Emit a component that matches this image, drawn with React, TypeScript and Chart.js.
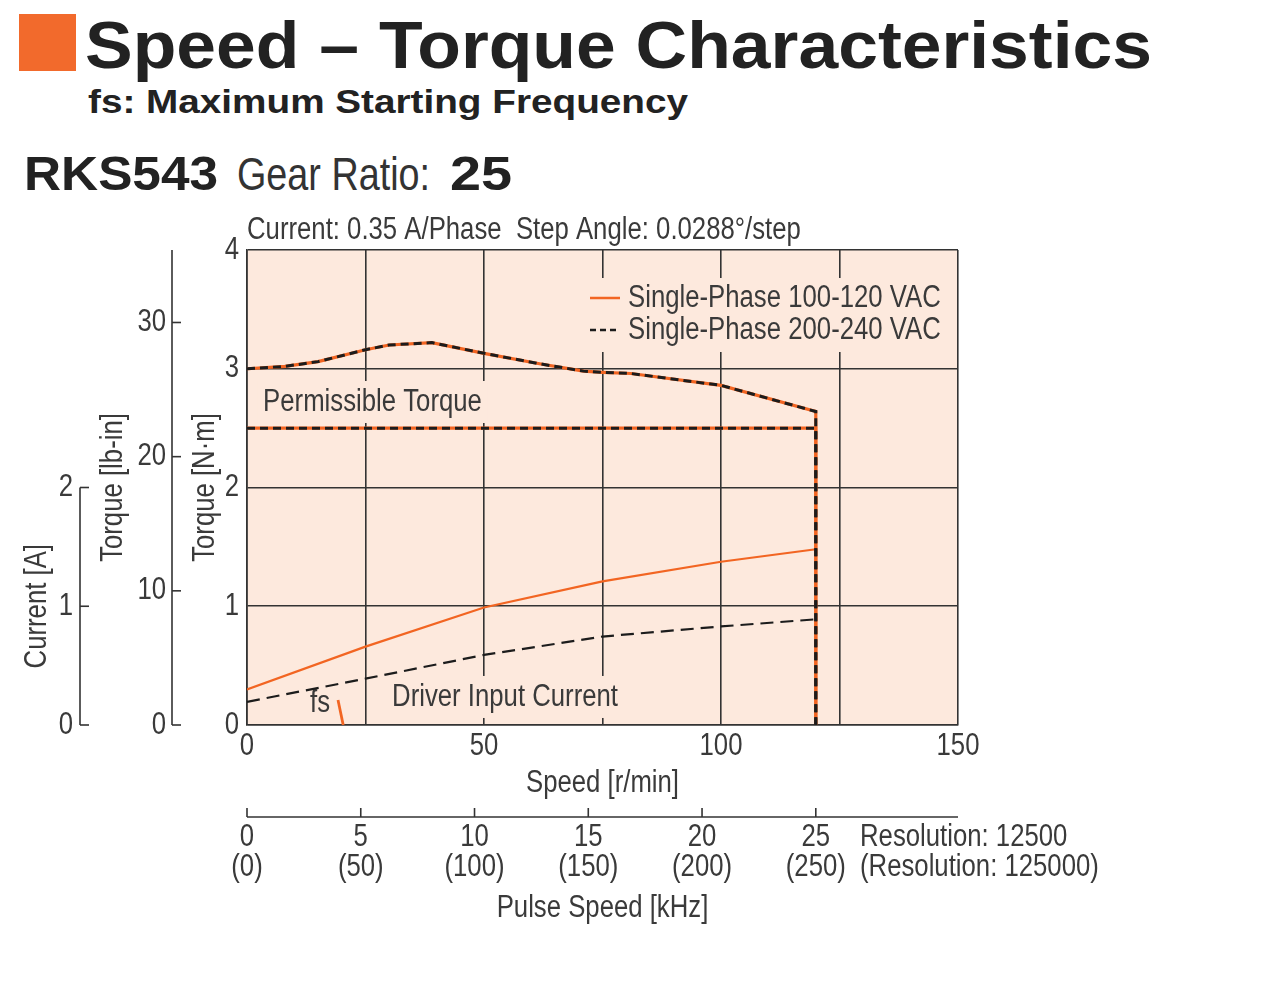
import React, { useEffect, useLayoutEffect, useRef } from 'react';
import { Chart, registerables } from 'chart.js';

Chart.register(...registerables);

// ---------------- data ----------------
const SPEED_PULLOUT = [0, 8, 15, 25, 30, 39, 50, 62, 71, 75, 81, 100, 120, 120];
const TORQUE_PULLOUT = [3.0, 3.02, 3.06, 3.16, 3.2, 3.22, 3.13, 3.04, 2.98, 2.97, 2.96, 2.86, 2.64, 0];
const SPEED_PERMISSIBLE = [0, 120, 120];
const TORQUE_PERMISSIBLE = [2.5, 2.5, 0];
const SPEED_CURRENT = [0, 25, 50, 75, 100, 120];
const CURRENT_AC100 = [0.3, 0.66, 0.99, 1.21, 1.375, 1.48];
const CURRENT_AC200 = [0.195, 0.39, 0.59, 0.745, 0.83, 0.89];
const SPEED_FS = [19.2, 20.3];
const VALUE_FS = [0.21, 0];

const SERIES_LABELS = ['Single-Phase 100-120 VAC', 'Single-Phase 200-240 VAC'];
const SPEED_TICK_LABELS = [0, 50, 100, 150];
const LBIN_TICKS = [0, 10, 20, 30];
const CURRENT_TICKS = [0, 1, 2];
const PULSE_TICKS = [0, 5, 10, 15, 20, 25];
const PULSE_TICKS_HIGH_RES = ['(0)', '(50)', '(100)', '(150)', '(200)', '(250)'];
const NM_TO_LBIN = 8.8507;
const PULSE_KHZ_MAX = 31.25; // 25 kHz = 120 r/min

// ---------------- styles ----------------
const FONT = '"Liberation Sans", Arial, sans-serif';
const TEXT = '#3a3a3a';
const GRID = '#333333';
const ORANGE = '#f26522';
const BLACK = '#1c1c1c';
const PLOT_BG = '#fde9dd';
const SQUARE = '#f26a2c';
const FS = 31;
const SX = 0.83; // condensed look

const NOTES = [
  { text: 'Permissible Torque', x: 3.4, y: 2.72, box: true },
  { text: 'Driver Input Current', x: 30.6, y: 0.236, box: true },
  { text: 'fs', x: 13.3, y: 0.185, box: false },
];

function drawText(ctx: CanvasRenderingContext2D, text: string, x: number, y: number, align: CanvasTextAlign, rotate = false) {
  ctx.save();
  ctx.translate(x, y);
  if (rotate) ctx.rotate(-Math.PI / 2);
  ctx.scale(SX, 1);
  ctx.textAlign = align;
  ctx.textBaseline = 'middle';
  ctx.fillText(text, 0, 0);
  ctx.restore();
}

const decor = {
  id: 'decor',
  beforeDraw(chart: any) {
    const { ctx, chartArea: a } = chart;
    ctx.save();
    ctx.fillStyle = PLOT_BG;
    ctx.fillRect(a.left, a.top, a.right - a.left, a.bottom - a.top);
    ctx.restore();
  },
  beforeDatasetsDraw(chart: any) {
    const { ctx, chartArea: a } = chart;
    const xs = chart.scales.x;
    const ys = chart.scales.y;
    ctx.save();
    ctx.font = `${FS}px ${FONT}`;
    for (const n of NOTES) {
      const px = xs.getPixelForValue(n.x);
      const py = ys.getPixelForValue(n.y);
      const w = ctx.measureText(n.text).width * SX;
      if (n.box) {
        ctx.fillStyle = PLOT_BG;
        ctx.fillRect(px - 6, py - 21, w + 12, 42);
      }
      ctx.fillStyle = TEXT;
      drawText(ctx, n.text, px, py, 'left');
    }
    // legend
    const ds = chart.data.datasets;
    const lx = a.right - 368;
    const ly = a.top + 48;
    ctx.fillStyle = PLOT_BG;
    ctx.fillRect(lx - 4, ly - 20, 360, 74);
    const entries = [ds[1], ds[0]];
    entries.forEach((d: any, i: number) => {
      const y = ly + i * 32;
      ctx.save();
      ctx.strokeStyle = d.borderColor;
      ctx.lineWidth = 2.5;
      ctx.setLineDash(d.borderDash ? [6, 4] : []);
      ctx.beginPath();
      ctx.moveTo(lx, y);
      ctx.lineTo(lx + 30, y);
      ctx.stroke();
      ctx.restore();
      ctx.fillStyle = TEXT;
      drawText(ctx, d.label, lx + 38, y, 'left');
    });
    ctx.restore();
  },
  afterDraw(chart: any) {
    const { ctx, chartArea: a } = chart;
    const xs = chart.scales.x;
    const ys = chart.scales.y;
    const lb = chart.scales.ylb;
    const cur = chart.scales.ycur;
    const kh = chart.scales.xkhz;
    ctx.save();
    ctx.strokeStyle = GRID;
    ctx.fillStyle = TEXT;
    ctx.lineWidth = 1.6;
    ctx.font = `${FS}px ${FONT}`;

    // main axes labels
    for (const t of ys.ticks) drawText(ctx, String(t.value), a.left - 8, ys.getPixelForValue(t.value), 'right');
    for (const t of xs.ticks) {
      if (SPEED_TICK_LABELS.includes(t.value)) drawText(ctx, String(t.value), xs.getPixelForValue(t.value), a.bottom + 21, 'center');
    }
    drawText(ctx, 'Speed [r/min]', (a.left + a.right) / 2, a.bottom + 58, 'center');
    drawText(ctx, 'Torque [N·m]', 205, ys.getPixelForValue(2), 'center', true);

    // lb-in axis
    const lbX = 172;
    ctx.beginPath();
    ctx.moveTo(lbX, lb.getPixelForValue(lb.max));
    ctx.lineTo(lbX, lb.getPixelForValue(0));
    ctx.stroke();
    for (const t of LBIN_TICKS) {
      const y = lb.getPixelForValue(t);
      ctx.beginPath();
      ctx.moveTo(lbX, y);
      ctx.lineTo(lbX + 9, y);
      ctx.stroke();
      drawText(ctx, String(t), lbX - 6, y, 'right');
    }

    // current axis
    const cX = 80;
    ctx.beginPath();
    ctx.moveTo(cX, cur.getPixelForValue(CURRENT_TICKS[CURRENT_TICKS.length - 1]));
    ctx.lineTo(cX, cur.getPixelForValue(0));
    ctx.stroke();
    for (const t of CURRENT_TICKS) {
      const y = cur.getPixelForValue(t);
      ctx.beginPath();
      ctx.moveTo(cX, y);
      ctx.lineTo(cX + 9, y);
      ctx.stroke();
      drawText(ctx, String(t), cX - 7, y, 'right');
    }

    drawText(ctx, 'Torque [lb-in]', 113, lb.getPixelForValue(lb.max * 0.5), 'center', true);
    drawText(ctx, 'Current [A]', 37, cur.getPixelForValue(1), 'center', true);

    // pulse speed axis
    const pY = 817;
    ctx.beginPath();
    ctx.moveTo(a.left, pY);
    ctx.lineTo(a.right, pY);
    ctx.stroke();
    PULSE_TICKS.forEach((t, i) => {
      const x = kh.getPixelForValue(t);
      ctx.beginPath();
      ctx.moveTo(x, pY);
      ctx.lineTo(x, pY - 9);
      ctx.stroke();
      drawText(ctx, String(t), x, pY + 20, 'center');
      drawText(ctx, PULSE_TICKS_HIGH_RES[i], x, pY + 50, 'center');
    });
    drawText(ctx, 'Resolution: 12500', 860, pY + 20, 'left');
    drawText(ctx, '(Resolution: 125000)', 860, pY + 50, 'left');
    drawText(ctx, 'Pulse Speed [kHz]', (a.left + a.right) / 2, pY + 91, 'center');

    // step info above plot
    drawText(ctx, 'Current: 0.35 A/Phase  Step Angle: 0.0288°/step', a.left, a.top - 20, 'left');
    ctx.restore();
  },
};

const pts = (xs: number[], ys: number[]) => xs.map((x, i) => ({ x, y: ys[i] }));

function FitText(props: { text: string; left: number; top: number; width: number; font: string; color: string }) {
  const ref = useRef<HTMLSpanElement>(null);
  useLayoutEffect(() => {
    const el = ref.current;
    if (!el) return;
    el.style.transform = 'none';
    const w = el.getBoundingClientRect().width;
    if (w > 0) el.style.transform = `scaleX(${props.width / w})`;
  }, [props.text, props.width]);
  return (
    <span
      ref={ref}
      style={{
        position: 'absolute',
        left: props.left,
        top: props.top,
        font: props.font,
        color: props.color,
        whiteSpace: 'nowrap',
        display: 'inline-block',
        transformOrigin: '0 0',
      }}
    >
      {props.text}
    </span>
  );
}

export default function App() {
  const canvasRef = useRef<HTMLCanvasElement>(null);

  useEffect(() => {
    const canvas = canvasRef.current;
    if (!canvas) return;
    const chart = new Chart(canvas, {
      type: 'line',
      data: {
        datasets: [
          {
            label: SERIES_LABELS[1],
            data: pts(SPEED_PULLOUT, TORQUE_PULLOUT),
            borderColor: BLACK,
            borderWidth: 3,
            borderDash: [8, 5],
            order: 0,
          },
          {
            label: SERIES_LABELS[0],
            data: pts(SPEED_PULLOUT, TORQUE_PULLOUT),
            borderColor: ORANGE,
            borderWidth: 3.2,
            order: 1,
          },
          {
            label: SERIES_LABELS[1] + ' permissible',
            data: pts(SPEED_PERMISSIBLE, TORQUE_PERMISSIBLE),
            borderColor: BLACK,
            borderWidth: 3,
            borderDash: [8, 5],
            order: 0,
          },
          {
            label: SERIES_LABELS[0] + ' permissible',
            data: pts(SPEED_PERMISSIBLE, TORQUE_PERMISSIBLE),
            borderColor: ORANGE,
            borderWidth: 3.2,
            order: 1,
          },
          {
            label: SERIES_LABELS[1] + ' current',
            data: pts(SPEED_CURRENT, CURRENT_AC200),
            borderColor: BLACK,
            borderWidth: 2.2,
            borderDash: [13, 7],
            yAxisID: 'ycur',
            order: 0,
          },
          {
            label: SERIES_LABELS[0] + ' current',
            data: pts(SPEED_CURRENT, CURRENT_AC100),
            borderColor: ORANGE,
            borderWidth: 2.2,
            yAxisID: 'ycur',
            order: 1,
          },
          {
            label: 'fs',
            data: pts(SPEED_FS, VALUE_FS),
            borderColor: ORANGE,
            borderWidth: 2.8,
            yAxisID: 'ycur',
            order: 1,
          },
        ],
      },
      options: {
        responsive: false,
        animation: false,
        devicePixelRatio: 1,
        parsing: false as any,
        layout: { padding: { left: 187, top: 250, right: 322, bottom: 202 } },
        plugins: { legend: { display: false }, tooltip: { enabled: false } },
        elements: { point: { radius: 0 }, line: { tension: 0, fill: false } },
        scales: {
          x: {
            type: 'linear',
            position: 'bottom',
            min: 0,
            max: 150,
            afterFit: (s: any) => {
              s.height = 75;
            },
            ticks: { stepSize: 25, autoSkip: false, display: false },
            grid: { color: GRID, lineWidth: 1.6, drawTicks: false },
            border: { color: GRID, width: 1.6 },
            title: { display: false, text: 'Speed [r/min]' },
          },
          y: {
            type: 'linear',
            position: 'left',
            min: 0,
            max: 4,
            afterFit: (s: any) => {
              s.width = 60;
            },
            ticks: { stepSize: 1, display: false },
            grid: { color: GRID, lineWidth: 1.6, drawTicks: false },
            border: { color: GRID, width: 1.6 },
            title: { display: false, text: 'Torque [N·m]' },
          },
          ylb: { type: 'linear', position: 'left', display: false, min: 0, max: 4 * NM_TO_LBIN },
          ycur: { type: 'linear', position: 'left', display: false, min: 0, max: 4 },
          xkhz: { type: 'linear', position: 'bottom', display: false, min: 0, max: PULSE_KHZ_MAX },
        },
      } as any,
      plugins: [decor],
    });
    return () => chart.destroy();
  }, []);

  return (
    <div style={{ position: 'absolute', left: 0, top: 0, width: 1280, height: 1002, background: '#fff', overflow: 'hidden' }}>
      <div style={{ position: 'absolute', left: 19, top: 14, width: 57, height: 57, background: SQUARE }} />
      <FitText
        text="Speed – Torque Characteristics"
        left={85}
        top={11}
        width={1067}
        font={'bold 67px/67px "Liberation Sans", Arial, sans-serif'}
        color="#222"
      />
      <FitText
        text="fs: Maximum Starting Frequency"
        left={88}
        top={85}
        width={600}
        font={'bold 33px/33px "Liberation Sans", Arial, sans-serif'}
        color="#222"
      />
      <FitText text="RKS543" left={24} top={149} width={194} font={'bold 49px/49px "Liberation Sans", Arial, sans-serif'} color="#222" />
      <FitText text="Gear Ratio:" left={237} top={150} width={193} font={'47px/47px "Liberation Sans", Arial, sans-serif'} color="#333" />
      <FitText text="25" left={450} top={149} width={62} font={'bold 49px/49px "Liberation Sans", Arial, sans-serif'} color="#222" />
      <canvas ref={canvasRef} width={1280} height={1002} style={{ position: 'absolute', left: 0, top: 0 }} />
    </div>
  );
}
